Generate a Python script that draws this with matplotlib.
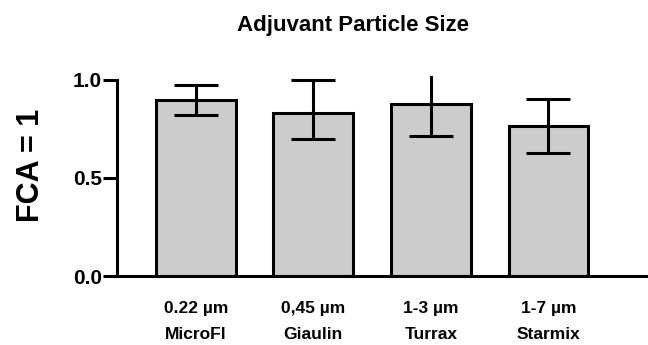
import matplotlib.pyplot as plt
import numpy as np

plt.rcParams['font.family'] = ['Liberation Sans', 'DejaVu Sans']
plt.rcParams['font.weight'] = 'bold'

# data
sizes = ["0.22 µm", "0,45 µm", "1-3 µm", "1-7 µm"]
methods = ["MicroFl", "Giaulin", "Turrax", "Starmix"]
values = [0.898, 0.832, 0.878, 0.765]
err_low = [0.821, 0.699, 0.714, 0.628]
err_high = [0.974, 1.0, 1.10, 0.903]

x = np.arange(len(values))
yerr = np.array([np.array(values) - np.array(err_low),
                 np.array(err_high) - np.array(values)])

fig = plt.figure(figsize=(6.48, 3.45), dpi=100)
ax = fig.add_axes([0.1806, 0.2, 0.8164, 0.58])

ax.bar(x, values, width=0.68, color="#cccccc", edgecolor="black", linewidth=2.2, zorder=2)
ax.errorbar(x, values, yerr=yerr, fmt="none", ecolor="black", elinewidth=2.2,
            capsize=15.5, capthick=2.2, zorder=3)

ax.set_xlim(-0.67, 3.83)
ax.set_ylim(0, 1.02)
ax.set_yticks([0.0, 0.5, 1.0])
ax.set_yticklabels(["0.0", "0.5", "1.0"], fontsize=15, fontweight="bold")
ax.spines["left"].set_bounds(0, 1.0)
ax.spines["top"].set_visible(False)
ax.spines["right"].set_visible(False)
for s in ("left", "bottom"):
    ax.spines[s].set_linewidth(2.2)
ax.tick_params(axis="y", direction="out", length=10, width=2.2, pad=1)

ax.set_xticks(x)
ax.set_xticklabels([f"{a}\n{b}" for a, b in zip(sizes, methods)],
                   fontsize=12.5, fontweight="bold", linespacing=1.9)
ax.tick_params(axis="x", length=0, pad=18)

ax.set_ylabel("FCA = 1", fontsize=22, fontweight="bold")
ax.yaxis.set_label_coords(-0.134, 0.555)
fig.text(0.545, 0.925, "Adjuvant Particle Size", ha="center", va="center",
         fontsize=16, fontweight="bold")

fig.savefig("out.png", dpi=100)
